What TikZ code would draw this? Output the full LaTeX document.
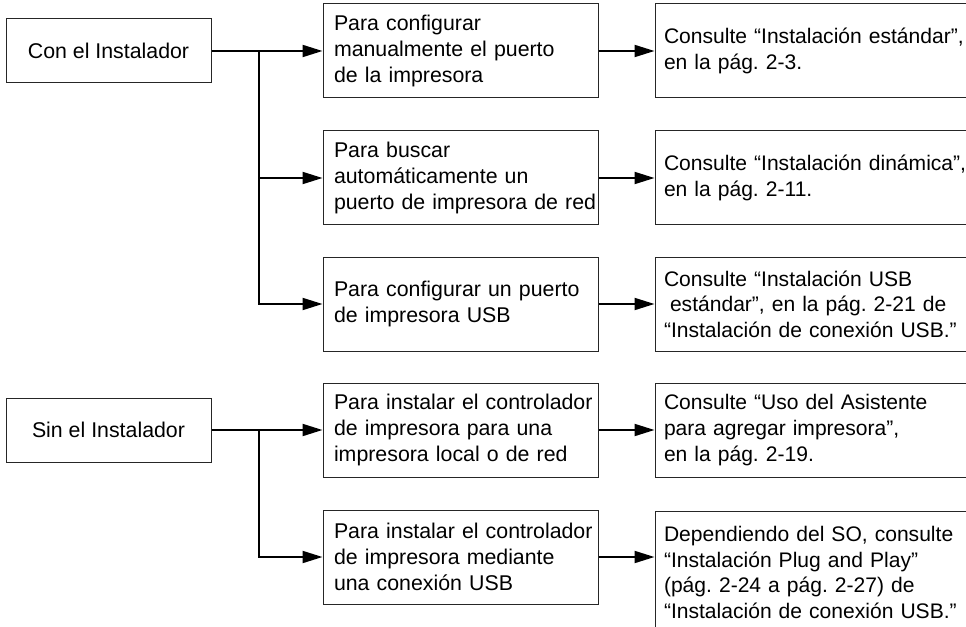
\documentclass[tikz,border=0pt]{standalone}
\usepackage{fontspec}
\setmainfont{Liberation Sans}
\usetikzlibrary{arrows.meta}
\frenchspacing

\tikzset{
	box/.style={draw=black!85, line width=0.75pt, inner sep=0pt},
	start/.style={box, minimum width=153.75pt, minimum height=48pt, font=\fontsize{16}{19.5}\selectfont},
	choice/.style={box, minimum width=206.25pt, minimum height=70.5pt, text width=189.75pt, align=left,
		font=\fontsize{16}{19.5}\selectfont, execute at begin node={\rightskip=0pt plus 1fil minus 80pt}},
	target/.style={box, minimum width=247.5pt, minimum height=70.5pt, text width=234pt, align=left,
		font=\fontsize{15.8}{19.2}\selectfont, execute at begin node={\rightskip=0pt plus 1fil minus 80pt}},
	link/.style={line width=1.5pt, -{Triangle[length=15pt,width=9pt]}}
}

\begin{document}
\begin{tikzpicture}[x=0.75pt, y=-0.75pt]
	\useasboundingbox (0,0) rectangle (966,627);
	\clip (0,0) rectangle (966,627);
	% con y sin el instalador
	\node[start] (con) at (108.5,51) {Con el Instalador};
	\node[start] (sin) at (108.5,430) {Sin el Instalador};
	% casos
	\node[choice] (mid1) at (460.5,51) {Para configurar\\manualmente el puerto\\de la impresora};
	\node[choice] (mid2) at (460.5,178) {Para buscar\\automáticamente un\\puerto de impresora de red};
	\node[choice] (mid3) at (460.5,304) {Para configurar un puerto\\de impresora USB};
	\node[choice] (mid4) at (460.5,430) {Para instalar el controlador\\de impresora para una\\impresora local o de red};
	\node[choice] (mid5) at (460.5,557) {Para instalar el controlador\\de impresora mediante\\una conexión USB};
	% referencias
	\node[target] (rig1) at (820,51) {Consulte “Instalación estándar”,\\en la pág. 2-3.};
	\node[target] (rig2) at (820,178) {Consulte “Instalación dinámica”,\\en la pág. 2-11.};
	\node[target] (rig3) at (820,304) {Consulte “Instalación USB\\\hspace*{4.5pt}estándar”, en la pág. 2-21 de\\“Instalación de conexión USB.”};
	\node[target] (rig4) at (820,430) {Consulte “Uso del Asistente\\para agregar impresora”,\\en la pág. 2-19.};
	\node[target, minimum height=91.5pt, anchor=north] (rig5) at (820,511) {Dependiendo del SO, consulte\\“Instalación Plug and Play”\\(pág. 2-24 a pág. 2-27) de\\“Instalación de conexión USB.”};
	% ramas
	\coordinate (b1) at (259,51);
	\coordinate (b2) at (259,430);
	\draw[link] (con.east) -- (mid1.west);
	\draw[link] (b1) |- (mid2.west);
	\draw[link] (b1) |- (mid3.west);
	\draw[link] (sin.east) -- (mid4.west);
	\draw[link] (b2) |- (mid5.west);
	\foreach \i in {1,...,5}
	\draw[link] (mid\i.east) -- (mid\i.east -| rig\i.west);
\end{tikzpicture}
\end{document}
